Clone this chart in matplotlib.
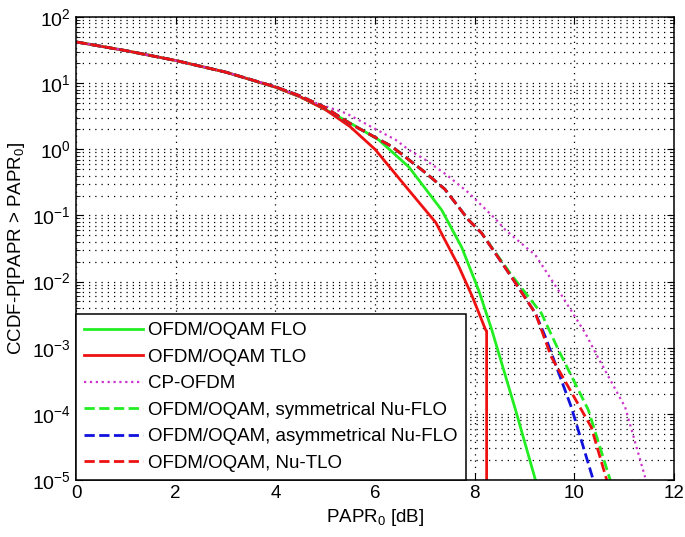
import matplotlib
matplotlib.use("Agg")
import matplotlib.pyplot as plt
import numpy as np

plt.rcParams['font.family'] = ['Liberation Sans', 'DejaVu Sans']
plt.rcParams['mathtext.default'] = 'regular'

# ---- data ----
common_x = [0.0, 1.0, 2.0, 3.0, 4.0, 4.5, 5.0]
common_y = [42, 31, 22, 14.7, 8.7, 6.2, 4.0]

flo_x = common_x + [5.5, 6.08, 6.68, 7.34, 7.74, 8.08, 8.34, 8.82, 9.22]
flo_y = common_y + [2.5, 1.38, 0.54, 0.12, 0.033, 0.0074, 1.9e-3, 1.15e-4, 1e-5]

tlo_x = common_x + [5.5, 6.0, 6.68, 7.22, 7.68, 7.95, 8.22, 8.24, 8.24]
tlo_y = common_y + [2.2, 1.0, 0.24, 0.078, 0.017, 6e-3, 1.86e-3, 1.8e-3, 1e-6]

cp_x = [0.0, 1.0, 2.0, 3.0, 4.0, 4.82, 5.42, 6.42, 6.68, 7.0, 7.42, 7.88, 8.42, 8.62,
        9.22, 9.7, 10.22, 10.48, 11.02, 11.42]
cp_y = [42, 31, 22, 14.7, 8.9, 5.0, 3.5, 1.38, 0.98, 0.7, 0.42, 0.22, 0.088, 0.06,
        0.025, 7e-3, 1.66e-3, 7e-4, 1.26e-4, 1.1e-5]

nu_x_top = [0.0, 1.0, 2.0, 3.0, 4.0, 4.5, 5.0, 5.48, 6.34, 7.0, 7.4, 7.88, 8.14, 8.74]
nu_y_top = [42, 31, 22, 14.7, 8.8, 6.4, 4.3, 2.5, 1.1, 0.45, 0.25, 0.085, 0.054, 0.0117]

sym_x = nu_x_top + [9.34, 9.68, 10.28, 10.72]
sym_y = nu_y_top[:-1] + [0.0125] + [3.3e-3, 9.3e-4, 1.15e-4, 1e-5]

asym_x = nu_x_top + [9.22, 9.42, 9.94, 10.38]
asym_y = nu_y_top + [3.3e-3, 1.45e-3, 1.26e-4, 1e-5]

nutlo_x = nu_x_top + [9.22, 9.54, 10.34, 10.65]
nutlo_y = nu_y_top + [3.3e-3, 7.2e-4, 6.3e-5, 1e-5]

labels = ['OFDM/OQAM FLO', 'OFDM/OQAM TLO', 'CP-OFDM',
          'OFDM/OQAM, symmetrical Nu-FLO', 'OFDM/OQAM, asymmetrical Nu-FLO',
          'OFDM/OQAM, Nu-TLO']
x_ticks = [0, 2, 4, 6, 8, 10, 12]

green = '#22ee22'
red = '#ee1111'
blue = '#1111dd'
magenta = '#cc33cc'

fig = plt.figure(figsize=(6.85, 5.37), dpi=100)
ax = fig.add_axes([76/685, 1-480/537, 598/685, 463/537])

ax.plot(flo_x, flo_y, color=green, lw=2.0, label=labels[0])
ax.plot(tlo_x, tlo_y, color=red, lw=2.0, label=labels[1])
ax.plot(cp_x, cp_y, color=magenta, lw=1.6, linestyle=':', label=labels[2])
ax.plot(sym_x, sym_y, color=green, lw=2.0, linestyle='--', label=labels[3])
ax.plot(asym_x, asym_y, color=blue, lw=2.0, linestyle='--', label=labels[4])
ax.plot(nutlo_x, nutlo_y, color=red, lw=2.0, linestyle='--', label=labels[5])

ax.set_yscale('log')
ax.set_xlim(0, 12)
ax.set_ylim(1e-5, 1e2)
ax.set_xticks(x_ticks)
ax.set_xticklabels([str(t) for t in x_ticks])
ax.set_yticks([10.0**k for k in range(-5, 3)])
ax.yaxis.set_minor_locator(matplotlib.ticker.LogLocator(base=10, subs=np.arange(2, 10), numticks=20))
ax.yaxis.set_minor_formatter(matplotlib.ticker.NullFormatter())

grid_ls = (0, (1, 4))
ax.grid(True, which='major', axis='both', color='k', linestyle=grid_ls, lw=0.9)
ax.grid(True, which='minor', axis='y', color='k', linestyle=grid_ls, lw=0.9)

ax.tick_params(which='both', direction='in', top=True, right=True, labelsize=14)
ax.tick_params(axis='x', labelsize=13.5)
ax.tick_params(which='major', length=5)
ax.tick_params(which='minor', length=3)
for s in ax.spines.values():
    s.set_linewidth(1.1)

ax.set_xlabel('PAPR$_0$ [dB]', fontsize=13.5)
ax.set_ylabel('CCDF-P[PAPR > PAPR$_0$]', fontsize=13.5)

leg = ax.legend(loc='lower left', borderaxespad=0, fontsize=13.5, handlelength=3.1,
                fancybox=False, framealpha=1, edgecolor='k', labelspacing=0.5,
                borderpad=0.45, handletextpad=0.3)
leg.get_frame().set_linewidth(1.1)

fig.savefig('out.png', dpi=100)
